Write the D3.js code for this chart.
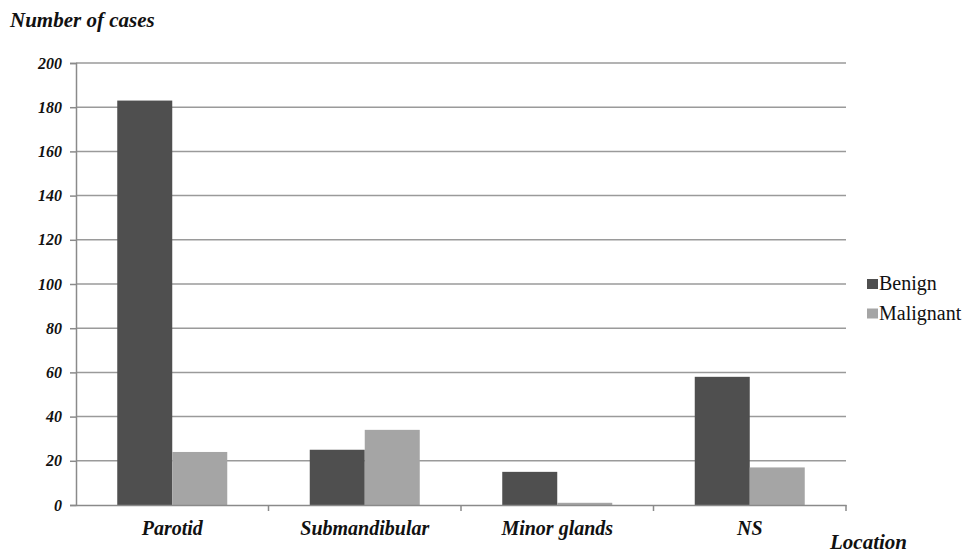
<!DOCTYPE html>
<html>
<head>
<meta charset="utf-8">
<script src="https://cdn.jsdelivr.net/npm/d3@7"></script>
<style>
  html, body { margin: 0; padding: 0; background: #fff; }
  svg text { font-family: "Liberation Serif", "Tinos", "Times New Roman", "DejaVu Serif", serif; }
</style>
</head>
<body>
<svg id="chart" width="968" height="553"></svg>
<script>
// Salivary gland tumours by location
const categories = ["Parotid", "Submandibular", "Minor glands", "NS"];
const seriesNames = ["Benign", "Malignant"];
const benign = [183, 25, 15, 58];
const malignant = [24, 34, 1, 17];
const yTicks = [0, 20, 40, 60, 80, 100, 120, 140, 160, 180, 200];

const colors = { Benign: "#4f4f4f", Malignant: "#a5a5a5" };
const values = { Benign: benign, Malignant: malignant };

const svg = d3.select("#chart");
const margin = { left: 76, right: 122, top: 63, bottom: 48 };
const W = 968, H = 553;

const x = d3.scaleBand().domain(categories).range([margin.left, W - margin.right]).paddingInner(0).paddingOuter(0);
const xs = d3.scaleBand().domain(seriesNames).range([0, x.bandwidth()]).paddingInner(0).paddingOuter(0.75);
const y = d3.scaleLinear().domain([0, 200]).range([H - margin.bottom, margin.top]);

// horizontal gridlines
svg.append("g").selectAll("line").data(yTicks.filter(d => d > 0)).join("line")
  .attr("x1", margin.left).attr("x2", W - margin.right)
  .attr("y1", d => y(d)).attr("y2", d => y(d))
  .attr("stroke", "#9a9a9a").attr("stroke-width", 1.5);

// bars
const groups = svg.append("g").selectAll("g").data(categories).join("g")
  .attr("transform", d => `translate(${x(d)},0)`);
groups.selectAll("rect").data((c, i) => seriesNames.map(s => ({ s, v: values[s][i] }))).join("rect")
  .attr("x", d => xs(d.s)).attr("width", xs.bandwidth())
  .attr("y", d => y(d.v)).attr("height", d => y(0) - y(d.v))
  .attr("fill", d => colors[d.s]);

// y axis
const yAxis = svg.append("g").attr("transform", `translate(${margin.left},0)`)
  .call(d3.axisLeft(y).tickValues(yTicks).tickSize(6).tickPadding(8));
yAxis.select(".domain").attr("stroke", "#8a8a8a").attr("stroke-width", 1.5);
yAxis.selectAll(".tick line").attr("stroke", "#8a8a8a").attr("stroke-width", 1.5);
yAxis.selectAll(".tick text")
  .attr("font-size", 16)
  .attr("font-weight", "bold").attr("font-style", "italic").attr("fill", "#111");

// x axis
const xAxis = svg.append("g").attr("transform", `translate(0,${y(0)})`)
  .call(d3.axisBottom(x).tickSize(0).tickPadding(16));
xAxis.select(".domain").attr("stroke", "#8a8a8a").attr("stroke-width", 1.5);
xAxis.selectAll(".tick text")
  .attr("font-size", 20)
  .attr("font-weight", "bold").attr("font-style", "italic").attr("fill", "#111");
// category separator ticks
svg.append("g").selectAll("line").data(categories).join("line")
  .attr("x1", d => x(d) + x.bandwidth()).attr("x2", d => x(d) + x.bandwidth())
  .attr("y1", y(0)).attr("y2", y(0) + 6)
  .attr("stroke", "#8a8a8a").attr("stroke-width", 1.5);

// axis titles
svg.append("text").attr("x", 10).attr("y", 27).text("Number of cases")
  .attr("font-size", 21).attr("font-weight", "bold").attr("font-style", "italic").attr("fill", "#111");
svg.append("text").attr("x", 830).attr("y", 549).text("Location")
  .attr("font-size", 21).attr("font-weight", "bold").attr("font-style", "italic").attr("fill", "#111");

// legend
const legend = svg.append("g").attr("transform", "translate(867,279)");
const li = legend.selectAll("g").data(seriesNames).join("g")
  .attr("transform", (d, i) => `translate(0,${i * 29.5})`);
li.append("rect").attr("x", 0).attr("y", 0).attr("width", 11).attr("height", 10).attr("fill", d => colors[d]);
li.append("text").attr("x", 12).attr("y", 11).text(d => d)
  .attr("font-size", 20).attr("fill", "#111");
</script>
</body>
</html>
